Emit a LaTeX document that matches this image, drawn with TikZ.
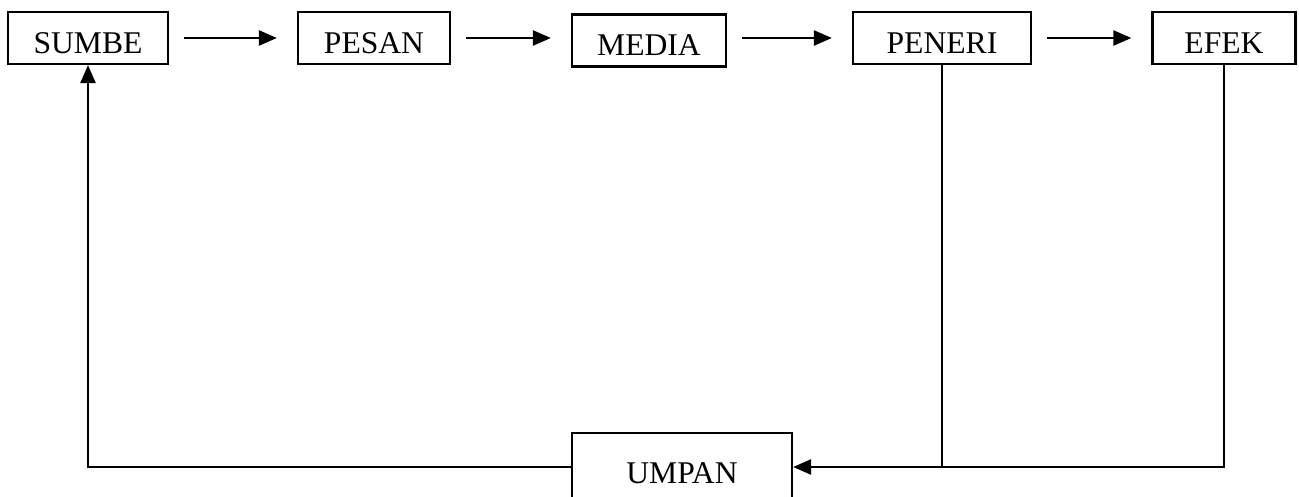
\documentclass[tikz,border=0pt]{standalone}
\usepackage{fontspec}
\setmainfont{Liberation Serif}
\usepackage{tikz}
\usetikzlibrary{arrows.meta}
\tikzset{
	kotak/.style={draw, line width=1.3pt, inner sep=0pt, minimum height=1.04cm, text height=0.62cm, text depth=0pt, font=\fontsize{18}{21}\selectfont},
	panah/.style={line width=1.4pt, -{Triangle[length=0.36cm,width=0.3cm]}},
	garis/.style={line width=1.4pt}
}

\begin{document}
\begin{tikzpicture}[x=0.02cm, y=-0.02cm]
			%%%%% START %%%%%
			
			\useasboundingbox (0, 0) rectangle (1299, 497);
			
			\node[kotak, minimum width=3.2cm] (sumbe) at (88, 38) {SUMBE};
			\node[kotak, minimum width=3.04cm] (pesan) at (374, 38) {PESAN};
			\node[kotak, minimum width=3.08cm] (media) at (649, 40.5) {MEDIA};
			\node[kotak, minimum width=3.56cm] (peneri) at (942, 38) {PENERI};
			\node[kotak, minimum width=2.86cm] (efek) at (1224, 38) {EFEK};
			
			\node[kotak, minimum width=4.4cm, minimum height=1.36cm, text height=0.64cm] (umpan) at (682, 467) {UMPAN};
			
			\draw[panah, shorten <=0.3cm, shorten >=0.4cm] (sumbe) -- (pesan);
			\draw[panah, shorten <=0.3cm, shorten >=0.4cm] (pesan.east) -- (pesan.east -| media.west);
			\draw[panah, shorten <=0.3cm, shorten >=0.4cm] (media.east |- peneri.west) -- (peneri.west);
			\draw[panah, shorten <=0.3cm, shorten >=0.4cm] (peneri) -- (efek);
			
			% umpan balik
			\draw[garis] (peneri.south) -- (peneri.south |- umpan.east);
			\draw[panah] (efek.south) |- (umpan.east);
			\draw[panah] (umpan.west) -| (sumbe.south);
			
			%%%%% END %%%%%
		\end{tikzpicture}
\end{document}
